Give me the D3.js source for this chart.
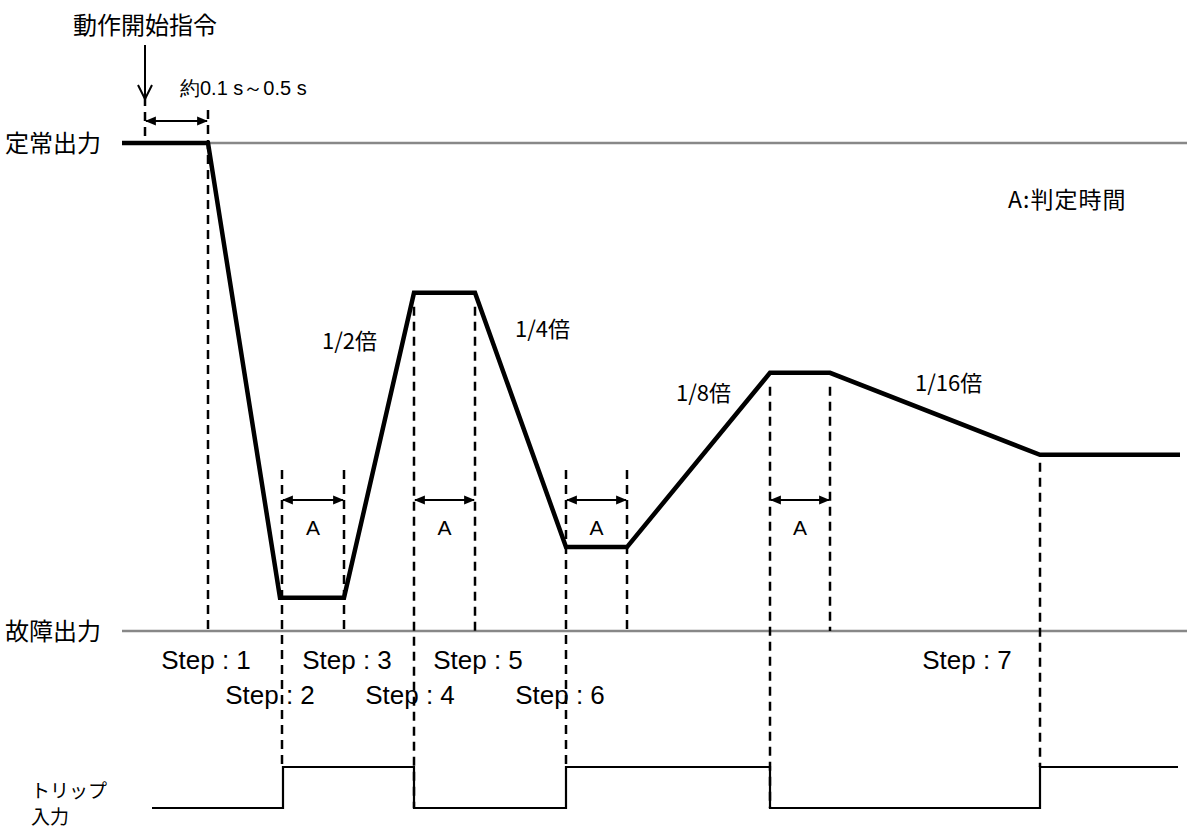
<!DOCTYPE html>
<html><head><meta charset="utf-8">
<script src="https://cdn.jsdelivr.net/npm/d3@7"></script>
<style>
html,body{margin:0;padding:0;background:#fff;overflow:hidden;}
svg{display:block;}
</style></head>
<body>
<svg id="c" width="1187" height="831"></svg>
<script>
// ---- data ----
const outTimes  = [0, 86, 158, 222, 292, 353, 444, 505, 648, 708, 918, 1058];
const outLevels = [1, 1, 0.068, 0.068, 0.693, 0.693, 0.172, 0.172, 0.529, 0.529, 0.361, 0.361];
const tripTimes  = [30, 161, 161, 292, 292, 444, 444, 648, 648, 918, 918, 1056];
const tripLevels = [0, 0, 1, 1, 0, 0, 1, 1, 0, 0, 1, 1];
const levelNames = ["定常出力", "故障出力"];
const levelValues = [1, 0];
const judgeStarts = [160, 292, 444, 648];
const judgeEnds   = [222, 353, 505, 708];
const ratioLabels = ["1/2倍", "1/4倍", "1/8倍", "1/16倍"];
const stepLabels = ["Step : 1", "Step : 2", "Step : 3", "Step : 4", "Step : 5", "Step : 6", "Step : 7"];
const stepTimes  = [84, 148, 225, 288, 356, 438, 845];
const startTime = 23;
const delayEnd = 86;

// ---- layout ----
const svg = d3.select("#c");
const x = d3.scaleLinear().domain([0, 1058]).range([122, 1180]);
const y = d3.scaleLinear().domain([0, 1]).range([631, 143]);
const yt = d3.scaleLinear().domain([0, 1]).range([808, 767]);
const jp = "'Noto Sans CJK JP', 'Noto Sans', sans-serif";
const ar = "'Liberation Sans', Arial, sans-serif";

const defs = svg.append("defs");
defs.append("marker").attr("id","ah").attr("viewBox","0 0 10 10").attr("refX",9).attr("refY",5)
  .attr("markerWidth",5).attr("markerHeight",5).attr("orient","auto-start-reverse").attr("markerUnits","strokeWidth")
  .append("path").attr("d","M0,1 L10,5 L0,9 Z").attr("fill","#000");

// gray reference lines
svg.append("line").attr("x1", x(delayEnd)).attr("x2", 1187).attr("y1", y(1)).attr("y2", y(1))
  .attr("stroke","#888").attr("stroke-width",2.5);
svg.append("line").attr("x1", x(0)).attr("x2", 1187).attr("y1", y(0)).attr("y2", y(0))
  .attr("stroke","#888").attr("stroke-width",2.5);

// level labels
svg.selectAll("text.lvl").data(levelNames).join("text").attr("class","lvl")
  .attr("x", 5).attr("y", (d,i)=>y(levelValues[i])).attr("dy","0.36em")
  .attr("font-family", jp).attr("font-size", 24).attr("fill","#000").text(d=>d);

// dashed verticals
const dash = "9,6";
const dashed = [];
dashed.push({t: startTime, y1: 97, y2: y(1)-4});
dashed.push({t: delayEnd, y1: 110, y2: y(0)});
judgeStarts.forEach((t,i)=>{
  const lvl = outLevels[outTimes.indexOf(judgeEnds[i])];
  const top = lvl > 0.4 ? y(lvl) + 14 : 470;
  dashed.push({t: t, y1: top, y2: yt(i % 2 === 0 ? 1 : 0)});
  dashed.push({t: judgeEnds[i], y1: top, y2: y(0)});
});
dashed.push({t: 918, y1: y(0.361)+8, y2: yt(1)});
svg.selectAll("line.dsh").data(dashed).join("line").attr("class","dsh")
  .attr("x1", d=>x(d.t)).attr("x2", d=>x(d.t))
  .attr("y1", d=>d.y1).attr("y2", d=>d.y2)
  .attr("stroke","#000").attr("stroke-width",2.5).attr("stroke-dasharray", dash);

// main output line
const line = d3.line().x(d=>x(d[0])).y(d=>y(d[1]));
svg.append("path").datum(outTimes.map((t,i)=>[t, outLevels[i]]))
  .attr("d", line).attr("fill","none").attr("stroke","#000").attr("stroke-width",4.5)
  .attr("stroke-linejoin","miter");

// trip signal
const tline = d3.line().x(d=>x(d[0])).y(d=>yt(d[1]));
svg.append("path").datum(tripTimes.map((t,i)=>[t, tripLevels[i]]))
  .attr("d", tline).attr("fill","none").attr("stroke","#000").attr("stroke-width",2.2);
svg.append("text").attr("x", 31).attr("y", 798).attr("font-family", jp).attr("font-size",19).text("トリップ");
svg.append("text").attr("x", 31).attr("y", 824).attr("font-family", jp).attr("font-size",19).text("入力");

// judge time arrows
judgeStarts.forEach((t,i)=>{
  svg.append("line").attr("x1", x(t)+1).attr("x2", x(judgeEnds[i])-1).attr("y1", 500).attr("y2", 500)
    .attr("stroke","#000").attr("stroke-width",2.2)
    .attr("marker-start","url(#ah)").attr("marker-end","url(#ah)");
  svg.append("text").attr("x", (x(t)+x(judgeEnds[i]))/2).attr("y", 535)
    .attr("text-anchor","middle").attr("font-family", ar).attr("font-size",21).text("A");
});

// ratio labels
const ratioPos = [[322,349],[515,337],[676,401],[915,391]];
ratioLabels.forEach((d,i)=>{
  svg.append("text").attr("x", ratioPos[i][0]).attr("y", ratioPos[i][1])
    .attr("font-family", jp).attr("font-size",22).text(d);
});
svg.append("text").attr("x", 1008).attr("y", 208).attr("font-family", jp).attr("font-size",23)
  .attr("letter-spacing", 1).text("A:判定時間");

// step labels
stepLabels.forEach((d,i)=>{
  const row = (i===1||i===3||i===5) ? 1 : 0;
  svg.append("text").attr("x", x(stepTimes[i])).attr("y", row ? 704 : 669)
    .attr("text-anchor","middle").attr("font-family", ar).attr("font-size",26).text(d);
});

// start command
svg.append("text").attr("x", x(startTime)).attr("y", 34).attr("text-anchor","middle")
  .attr("font-family", jp).attr("font-size",24).text("動作開始指令");
svg.append("line").attr("x1", x(startTime)).attr("x2", x(startTime)).attr("y1", 45).attr("y2", 100)
  .attr("stroke","#000").attr("stroke-width",2);
svg.append("path").attr("d", `M${x(startTime)-7},85 L${x(startTime)},99 L${x(startTime)+7},85`)
  .attr("fill","none").attr("stroke","#000").attr("stroke-width",2);
svg.append("line").attr("x1", x(startTime)+1).attr("x2", x(delayEnd)-1).attr("y1", 121).attr("y2", 121)
  .attr("stroke","#000").attr("stroke-width",2.2)
  .attr("marker-start","url(#ah)").attr("marker-end","url(#ah)");
svg.append("text").attr("x", 180).attr("y", 95).attr("font-family", ar).attr("font-size",20).text("約0.1 s～0.5 s");
</script>
</body></html>
